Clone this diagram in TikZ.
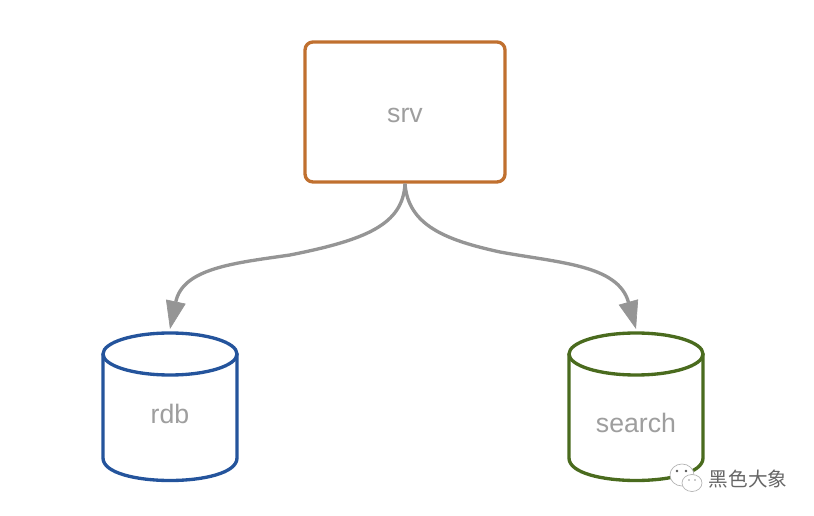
\documentclass[tikz,border=0pt]{standalone}
\usepackage{fontspec}
\setmainfont{Liberation Sans}
\newfontfamily\cjk{Noto Sans CJK SC}
\usetikzlibrary{arrows.meta}
\definecolor{orangeb}{HTML}{C0702F}
\definecolor{blueb}{HTML}{24549C}
\definecolor{greenb}{HTML}{4A6B1E}
\definecolor{arrowc}{HTML}{959595}
\definecolor{textc}{HTML}{9E9E9E}
\tikzset{
 px/.style={x=0.75pt,y=-0.75pt},
 lab/.style={text=textc,font=\fontsize{20}{24}\selectfont,inner sep=0},
 edge/.style={draw=arrowc,line width=2.5pt,-{Triangle[length=21pt,width=15pt,line width=0.5pt,color=arrowc,fill=arrowc]}},
 wall/.style={line width=2.5pt,fill=white},
 bubble/.style={draw=black!30,line width=0.5pt,fill=white}
}
\begin{document}
\begin{tikzpicture}[px]
\useasboundingbox (0,0) rectangle (814,516);
\node[draw=orangeb,line width=2.5pt,rounded corners=6pt,minimum width=150pt,minimum height=105pt] (srv) at (405,112) {};
\node[lab] (srvlab) at (405,115) {srv};
\coordinate (rt) at (170,329);
\coordinate (st) at (636,329);
% rdb cylinder
\draw[wall,draw=blueb] (103,354) -- (103,458) .. controls (103,488) and (237,488) .. (237,458) -- (237,354);
\draw[wall,draw=blueb] (170,354) ellipse [x radius=67,y radius=21];
\node[lab] (rdb) at (170,414) {rdb};
% search cylinder
\draw[wall,draw=greenb] (569,354) -- (569,458) .. controls (569,488) and (703,488) .. (703,458) -- (703,354);
\draw[wall,draw=greenb] (636,354) ellipse [x radius=67,y radius=21];
\node[lab] (search) at (636,423) {search};
\draw[edge] (srv.south) .. controls (403,225) and (365,240) .. (290,255) .. controls (235,263) and (183,268) .. (rt);
\draw[edge] (srv.south) .. controls (408,225) and (445,240) .. (500,252) .. controls (560,263) and (618,265) .. (st);
% watermark
\draw[bubble] (682,475) ellipse [x radius=12,y radius=11];
\draw[bubble] (692,483) ellipse [x radius=10,y radius=8.5];
\fill[black!65] (677,471) circle (1.3) (686,471) circle (1.3);
\fill[black!40] (689,480) circle (0.8) (695,480) circle (0.8);
\node[text=black!60,font=\cjk\fontsize{14.7}{18}\selectfont,inner sep=0] (wm) at (748,479) {黑色大象};
\end{tikzpicture}
\end{document}
